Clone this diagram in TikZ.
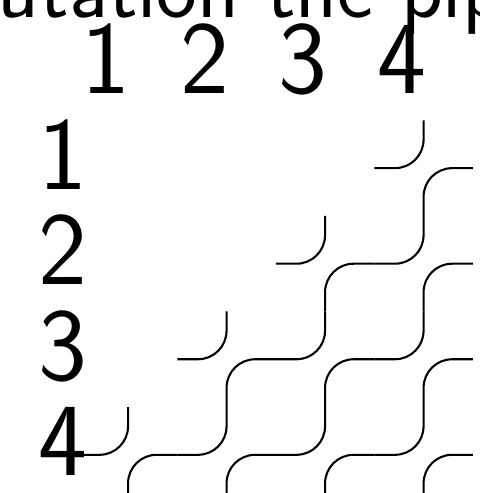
\documentclass[tikz,border=0pt]{standalone}
\usepackage{tikz}

\tikzset{
  pipe/.style={line width=0.6pt, rounded corners=2.9mm},
  lbl/.style={font=\fontsize{30}{36}\selectfont\sffamily, inner sep=0pt, anchor=base},
  headline/.style={font=\fontsize{25}{30}\selectfont\sffamily, inner sep=0pt, anchor=base west},
}

\begin{document}
\begin{tikzpicture}[x=1cm, y=-0.97cm]
  \useasboundingbox (0,0) rectangle (4.863cm,-5.005cm);
  \clip (0,0) rectangle (4.863cm,-5.005cm);

  % text above the grid, cut by the frame
  \node[headline] (head) at (-0.03,0.18) {utation the pip};

  % column and row numbers
  \foreach \j in {1,...,4}
    \node[lbl] (col\j) at (\j+0.08,0.98) {\j};
  \foreach \i in {1,...,4}
    \node[lbl] (row\i) at (0.64,\i+0.98) {\i};

  % elbow tiles below the antidiagonal
  \foreach \i in {1,...,4}
    \foreach \j in {1,...,4} {
      \pgfmathtruncatemacro\s{\i+\j}
      \ifnum\s>4
        \draw[pipe] (\j-0.2,\i+0.76) -- (\j+0.3,\i+0.76) -- (\j+0.3,\i+0.26);
        \draw[pipe] (\j+0.3,\i+1.26) -- (\j+0.3,\i+0.76) -- (\j+0.8,\i+0.76);
      \fi
    }
\end{tikzpicture}
\end{document}
